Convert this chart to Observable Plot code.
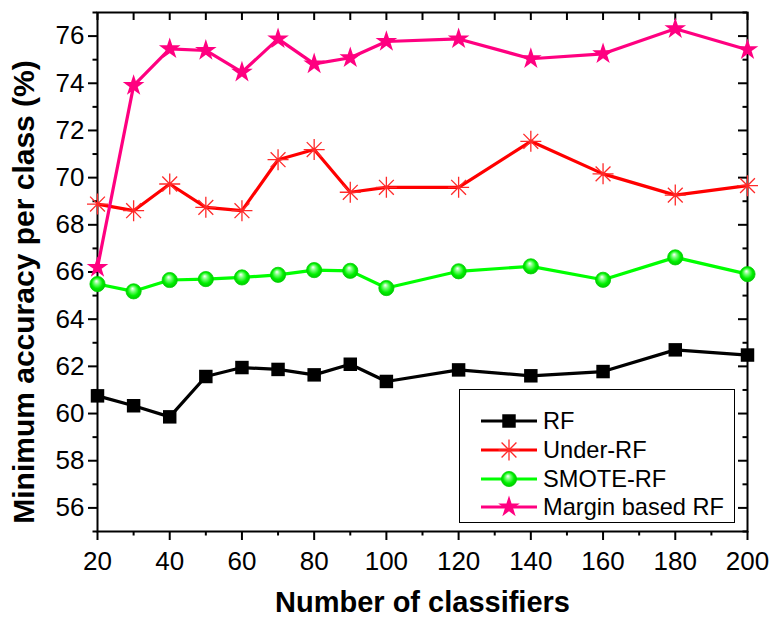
<!DOCTYPE html>
<html><head><meta charset="utf-8">
<script src="https://cdn.jsdelivr.net/npm/d3@7"></script>
<script src="https://cdn.jsdelivr.net/npm/@observablehq/plot@0.6"></script>
<style>
body{margin:0;background:#fff;font-family:Arial,"Liberation Sans",sans-serif;}
#wrap{position:relative;width:771px;height:620px;}
#legend{position:absolute;left:459px;top:389px;width:276px;height:134px;border:1px solid #000;box-sizing:border-box;background:#fff}
</style></head><body>
<svg width="0" height="0" style="position:absolute"><defs>
<radialGradient id="sphere" cx="0.5" cy="0.5" r="0.55" fx="0.42" fy="0.3">
<stop offset="0" stop-color="#ffffff"/>
<stop offset="0.3" stop-color="#77ff77"/>
<stop offset="0.65" stop-color="#00f000"/>
<stop offset="1" stop-color="#00c000"/>
</radialGradient></defs></svg>
<div id="wrap"></div>
<script>
const classifiers = [20,30,40,50,60,70,80,90,100,120,140,160,180,200];
const rf        = [60.75,60.33,59.86,61.57,61.95,61.87,61.64,62.09,61.36,61.85,61.60,61.78,62.70,62.48];
const underRF   = [68.88,68.60,69.73,68.74,68.60,70.76,71.19,69.38,69.59,69.59,71.54,70.16,69.26,69.66];
const smoteRF   = [65.49,65.18,65.66,65.70,65.77,65.88,66.08,66.05,65.32,66.03,66.24,65.67,66.62,65.91];
const marginRF  = [66.19,73.90,75.46,75.39,74.47,75.88,74.82,75.08,75.77,75.88,75.04,75.25,76.31,75.42];
const seriesNames  = ["RF","Under-RF","SMOTE-RF","Margin based RF"];
const seriesColors = ["#000000","#ff0000","#00ff00","#ff0080"];
const xTicks = [20,40,60,80,100,120,140,160,180,200];
const xMinor = [30,50,70,90,110,130,150,170,190];
const yTicks = [56,58,60,62,64,66,68,70,72,74,76];
const yMinor = [55,57,59,61,63,65,67,69,71,73,75,77];
const xTitle = "Number of classifiers";
const yTitle = "Minimum accuracy per class (%)";

const allSeries = [rf, underRF, smoteRF, marginRF];
const table = allSeries.flatMap((vals, s) => vals.map((v, i) => ({x: classifiers[i], y: v, series: seriesNames[s]})));
const bySeries = name => table.filter(d => d.series === name);

const asterisk8 = {draw(ctx, size){
  const r = Math.sqrt(size / Math.PI), d = r * Math.SQRT1_2;
  ctx.moveTo(-r,0); ctx.lineTo(r,0); ctx.moveTo(0,-r); ctx.lineTo(0,r);
  ctx.moveTo(-d,-d); ctx.lineTo(d,d); ctx.moveTo(-d,d); ctx.lineTo(d,-d);
}};
const markerStyles = [
  {symbol:"square", r:7.6, fill:"#000", stroke:"none"},
  {symbol:asterisk8, r:10.5, fill:"none", stroke:"#ff2a2a", strokeWidth:1.3},
  {symbol:"circle", r:7.6, fill:"url(#sphere)", stroke:"#00d000", strokeWidth:0.8},
  {symbol:"star", r:6.8, fill:"#ff0080", stroke:"none"}
];

const font = "Arial, 'Liberation Sans', sans-serif";
const marks = [
  Plot.axisY({ticks: yTicks, tickSize: 9, tickPadding: 4, fontSize: 26, strokeWidth: 2, label: null}),
  Plot.axisY({ticks: yMinor, tickSize: 4.5, text: null, strokeWidth: 2, label: null}),
  Plot.axisY({anchor: "left", frameAnchor: "right", ticks: yTicks, tickSize: 9, text: null, strokeWidth: 2, label: null}),
  Plot.axisY({anchor: "left", frameAnchor: "right", ticks: yMinor, tickSize: 4.5, text: null, strokeWidth: 2, label: null}),
  Plot.axisX({ticks: xTicks, tickSize: 9, tickPadding: 11, fontSize: 26, strokeWidth: 2, label: null}),
  Plot.axisX({ticks: xMinor, tickSize: 4.5, text: null, strokeWidth: 2, label: null}),
  Plot.axisX({anchor: "bottom", frameAnchor: "top", ticks: xTicks, tickSize: 8, text: null, strokeWidth: 2, label: null}),
  Plot.axisX({anchor: "bottom", frameAnchor: "top", ticks: xMinor, tickSize: 8, text: null, strokeWidth: 2, label: null}),
  Plot.frame({stroke: "#000", strokeWidth: 2}),
  Plot.text([xTitle], {frameAnchor: "bottom", textAnchor: "middle", lineAnchor: "middle", dy: 71, fontSize: 29, fontWeight: "bold", fill: "#000"}),
  Plot.text([yTitle], {frameAnchor: "left", textAnchor: "middle", lineAnchor: "middle", rotate: -90, dx: -73, dy: 20, fontSize: 30, fontWeight: "bold", fill: "#000"})
];
seriesNames.forEach((name, s) => {
  marks.push(Plot.line(bySeries(name), {x: "x", y: "y", stroke: seriesColors[s], strokeWidth: 3.2}));
});
seriesNames.forEach((name, s) => {
  marks.push(Plot.dot(bySeries(name), {x: "x", y: "y", ...markerStyles[s]}));
});

const chart = Plot.plot({
  width: 771, height: 620,
  marginLeft: 97, marginRight: 24, marginTop: 12, marginBottom: 89,
  style: {fontFamily: font, color: "#000", background: "#fff", overflow: "visible"},
  x: {domain: [20, 200]},
  y: {domain: [55, 77]},
  marks
});
document.getElementById("wrap").appendChild(chart);

// legend
const lg = document.createElement("div");
lg.id = "legend";
const W = 276, H = 134;
const svg = d3.create("svg").attr("width", W - 2).attr("height", H - 2).style("display","block");
const rowsY = [31, 60, 89, 117];
seriesNames.forEach((name, s) => {
  const y = rowsY[s];
  svg.append("line").attr("x1", 21).attr("x2", 77).attr("y1", y).attr("y2", y)
    .attr("stroke", seriesColors[s]).attr("stroke-width", 3.2);
  const m = markerStyles[s];
  const sym = typeof m.symbol === "string" ? {square: d3.symbolSquare, circle: d3.symbolCircle, star: d3.symbolStar}[m.symbol] : m.symbol;
  svg.append("path").attr("transform", `translate(49,${y})`)
    .attr("d", d3.symbol(sym, Math.PI * m.r * m.r)())
    .attr("fill", m.fill).attr("stroke", m.stroke).attr("stroke-width", m.strokeWidth || 0);
  svg.append("text").attr("x", 83).attr("y", y).attr("dy", "0.36em")
    .attr("font-size", 23.6).attr("font-family", font).attr("fill", "#000").text(name);
});
lg.appendChild(svg.node());
document.getElementById("wrap").appendChild(lg);
</script>
</body></html>
